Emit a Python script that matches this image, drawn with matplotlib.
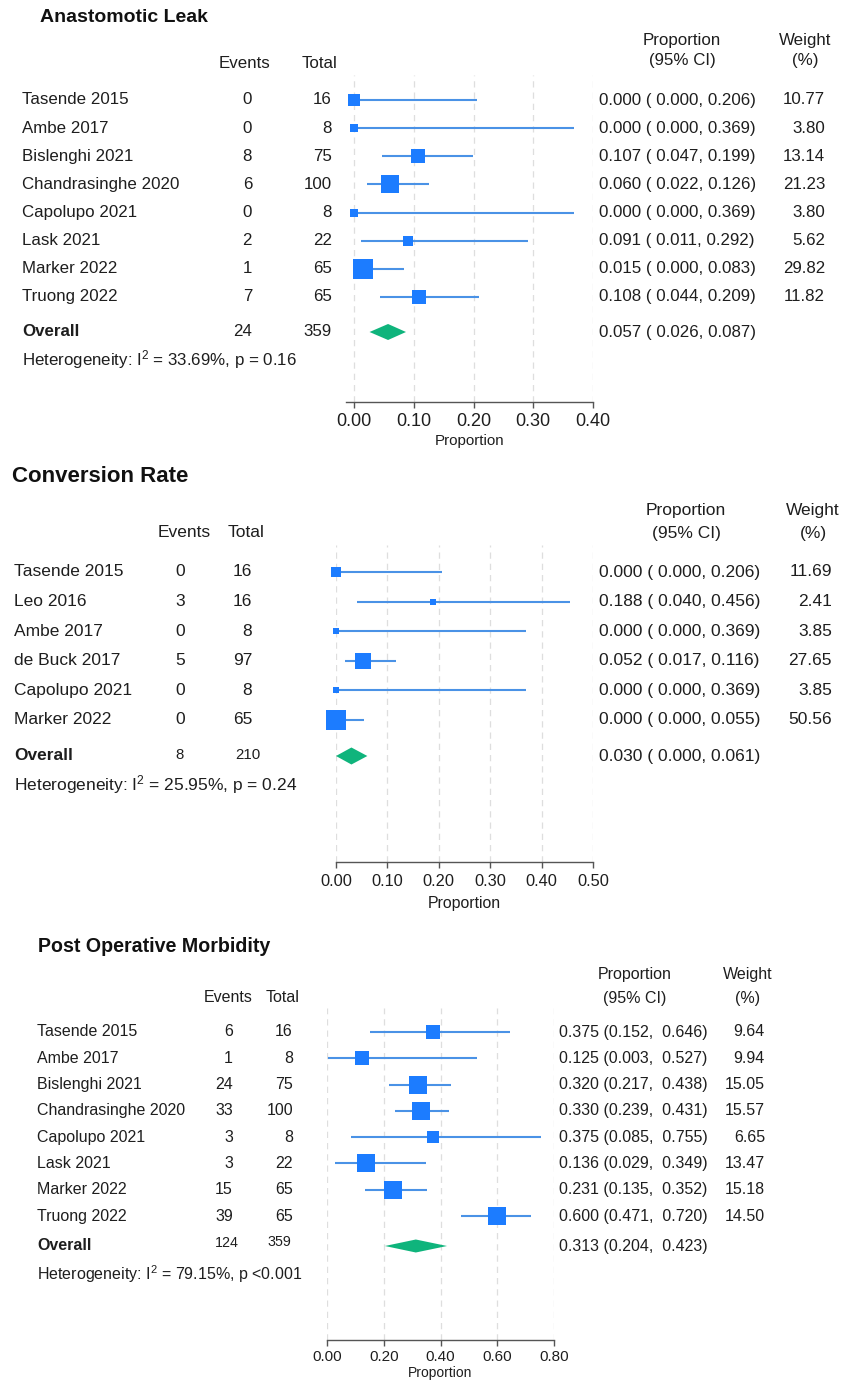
import numpy as np
import matplotlib
matplotlib.use("Agg")
import matplotlib.pyplot as plt

plt.rcParams["font.family"] = ["Liberation Sans", "DejaVu Sans"]
plt.rcParams["mathtext.fontset"] = "custom"
plt.rcParams["mathtext.rm"] = "Liberation Sans"
plt.rcParams["mathtext.default"] = "regular"

W, H = 851, 1385

# ---------------- Anastomotic Leak ----------------
al_studies = ["Tasende 2015", "Ambe 2017", "Bislenghi 2021", "Chandrasinghe 2020",
              "Capolupo 2021", "Lask 2021", "Marker 2022", "Truong 2022"]
al_events = [0, 0, 8, 6, 0, 2, 1, 7]
al_totals = [16, 8, 75, 100, 8, 22, 65, 65]
al_prop = [0.000, 0.000, 0.107, 0.060, 0.000, 0.091, 0.015, 0.108]
al_lo = [0.000, 0.000, 0.047, 0.022, 0.000, 0.011, 0.000, 0.044]
al_hi = [0.206, 0.369, 0.199, 0.126, 0.369, 0.292, 0.083, 0.209]
al_weight = [10.77, 3.80, 13.14, 21.23, 3.80, 5.62, 29.82, 11.82]
al_overall = [0.057, 0.026, 0.087]
al_sum = [24, 359]
al_i2, al_p = "33.69%", "p = 0.16"
al_ticks = [0.0, 0.1, 0.2, 0.3, 0.4]

# ---------------- Conversion Rate ----------------
cr_studies = ["Tasende 2015", "Leo 2016", "Ambe 2017", "de Buck 2017",
              "Capolupo 2021", "Marker 2022"]
cr_events = [0, 3, 0, 5, 0, 0]
cr_totals = [16, 16, 8, 97, 8, 65]
cr_prop = [0.000, 0.188, 0.000, 0.052, 0.000, 0.000]
cr_lo = [0.000, 0.040, 0.000, 0.017, 0.000, 0.000]
cr_hi = [0.206, 0.456, 0.369, 0.116, 0.369, 0.055]
cr_weight = [11.69, 2.41, 3.85, 27.65, 3.85, 50.56]
cr_overall = [0.030, 0.000, 0.061]
cr_sum = [8, 210]
cr_i2, cr_p = "25.95%", "p = 0.24"
cr_ticks = [0.0, 0.1, 0.2, 0.3, 0.4, 0.5]

# ---------------- Post Operative Morbidity ----------------
pm_studies = ["Tasende 2015", "Ambe 2017", "Bislenghi 2021", "Chandrasinghe 2020",
              "Capolupo 2021", "Lask 2021", "Marker 2022", "Truong 2022"]
pm_events = [6, 1, 24, 33, 3, 3, 15, 39]
pm_totals = [16, 8, 75, 100, 8, 22, 65, 65]
pm_prop = [0.375, 0.125, 0.320, 0.330, 0.375, 0.136, 0.231, 0.600]
pm_lo = [0.152, 0.003, 0.217, 0.239, 0.085, 0.029, 0.135, 0.471]
pm_hi = [0.646, 0.527, 0.438, 0.431, 0.755, 0.349, 0.352, 0.720]
pm_weight = [9.64, 9.94, 15.05, 15.57, 6.65, 13.47, 15.18, 14.50]
pm_overall = [0.313, 0.204, 0.423]
pm_sum = [124, 359]
pm_i2, pm_p = "79.15%", "p <0.001"
pm_ticks = [0.0, 0.2, 0.4, 0.6, 0.8]

SQ_COLOR = "#1c7cff"
CI_COLOR = "#4a92e6"
DIAMOND = "#0fb47c"
TXT = "#1e1e1e"
GRID = "#dedede"
AXC = "#555555"

fig = plt.figure(figsize=(W / 100, H / 100), dpi=100)


def ftext(x, y, s, **kw):
    kw.setdefault("color", TXT)
    kw.setdefault("va", "center")
    fig.text(x / W, 1 - y / H, s, **kw)


def draw_panel(title, studies, events, totals, prop, lo, hi, weight, overall,
               sums, i2, pval, ticks, L, ci_fmt):
    fs = L["fs"]
    ftext(L["title"][0], L["title"][1], title, fontsize=L["title_fs"],
          fontweight="bold", ha="left", color="#111111")
    # column headers
    ftext(L["prop_x"], L["hdr1_y"], "Proportion", fontsize=fs, ha="center")
    ftext(L["prop_x"], L["hdr2_y"], "(95% CI)", fontsize=fs, ha="center")
    ftext(L["wt_x"], L["hdr1_y"], "Weight", fontsize=fs, ha="center")
    ftext(L["wt_x"], L["hdr2_y"], "(%)", fontsize=fs, ha="center")
    ftext(L["ev_hdr"], L["hdr_y"], "Events", fontsize=fs, ha="center")
    ftext(L["tot_hdr"], L["hdr_y"], "Total", fontsize=fs, ha="center")

    n = len(studies)
    rows = [L["row0"] + i * L["step"] for i in range(n)]

    # forest axes: x in data units, y in row layout units (pixels from top)
    x0, x1 = L["xlim"]
    left_px = L["zero_px"] + x0 * L["ppu"]
    right_px = L["zero_px"] + x1 * L["ppu"]
    ax = fig.add_axes([left_px / W, 1 - L["axis_y"] / H,
                       (right_px - left_px) / W, (L["axis_y"] - L["grid_top"]) / H])
    ax.set_xlim(x0, x1)
    ax.set_ylim(L["axis_y"], L["grid_top"])
    ax.set_facecolor("none")
    for sp in ["top", "right", "left"]:
        ax.spines[sp].set_visible(False)
    ax.spines["bottom"].set_color(AXC)
    ax.spines["bottom"].set_linewidth(1.0)
    ax.set_yticks([])
    ax.set_xticks(ticks)
    ax.set_xticklabels([f"{t:.2f}" for t in ticks])
    ax.tick_params(axis="x", length=4, width=1.0, color=AXC, labelsize=L["tick_fs"],
                   labelcolor=TXT, pad=L["tick_pad"])
    ax.grid(axis="x", linestyle=(0, (5, 4)), color=GRID, linewidth=0.9)
    ax.set_axisbelow(True)
    ax.set_xlabel("Proportion", fontsize=L["xl_fs"], color=TXT, labelpad=L["xl_pad"])

    wmax = max(weight)
    for i in range(n):
        y = rows[i]
        ax.plot([lo[i], hi[i]], [y, y], color=CI_COLOR, lw=1.5, solid_capstyle="butt",
                zorder=3, clip_on=False)
        side_px = 1.5 + (L["sq"] - 1.5) * np.sqrt(weight[i] / wmax)
        ax.plot([prop[i]], [y], marker="s", ms=side_px * 0.72, color=SQ_COLOR, mew=0,
                zorder=4, clip_on=False)
        ftext(L["lab_x"], y, studies[i], fontsize=fs, ha="left")
        ftext(L["ev_x"], y, str(events[i]), fontsize=fs, ha="right")
        ftext(L["tot_x"], y, str(totals[i]), fontsize=fs, ha="right")
        ftext(L["ci_x"], y, ci_fmt.format(prop[i], lo[i], hi[i]), fontsize=fs, ha="left")
        ftext(L["w_x"], y, f"{weight[i]:.2f}", fontsize=fs, ha="right")

    # pooled estimate
    est, olo, ohi = overall
    yo = L["ov_y"]
    hh = L["dia_h"] / 2
    ax.fill([olo, est, ohi, est], [yo, yo - hh, yo, yo + hh], color=DIAMOND,
            lw=0, zorder=4, clip_on=False)
    ftext(L["lab_x"], yo, "Overall", fontsize=fs, ha="left", fontweight="bold")
    ftext(L["ov_ev"][0], L["ov_ev"][1], str(sums[0]), fontsize=L["ov_fs"], ha=L["ov_ha"])
    ftext(L["ov_tot"][0], L["ov_tot"][1], str(sums[1]), fontsize=L["ov_fs"], ha=L["ov_ha"])
    ftext(L["ci_x"], yo, ci_fmt.format(est, olo, ohi), fontsize=fs, ha="left")
    ftext(L["lab_x"], L["het_y"], f"Heterogeneity: I$^2$ = {i2}, {pval}",
          fontsize=fs, ha="left")
    return ax


L1 = dict(fs=12.2, title=(40, 18), title_fs=14, hdr1_y=40, hdr2_y=61, hdr_y=63,
          prop_x=682, wt_x=805, ev_hdr=245, tot_hdr=320,
          row0=100, step=28.14, lab_x=22, ev_x=252, tot_x=332, ci_x=599, w_x=825,
          zero_px=354, ppu=597.5, xlim=(-0.0134, 0.40), grid_top=75, axis_y=402,
          tick_fs=13, tick_pad=4, xl_fs=10.9, xl_pad=3,
          sq=20.0, ov_y=332, dia_h=16, het_y=360, ov_fs=12.2, ov_ha="right",
          ov_ev=(252, 332), ov_tot=(332, 332))

L2 = dict(fs=12.5, title=(12, 476), title_fs=16, hdr1_y=510, hdr2_y=534, hdr_y=533,
          prop_x=686, wt_x=813, ev_hdr=184, tot_hdr=246,
          row0=572, step=29.6, lab_x=14, ev_x=185, tot_x=252, ci_x=599, w_x=832,
          zero_px=336, ppu=514.0, xlim=(0.0, 0.50), grid_top=545, axis_y=862,
          tick_fs=11.8, tick_pad=5, xl_fs=11.4, xl_pad=5,
          sq=20.7, ov_y=756, dia_h=17, het_y=785, ov_fs=10.8, ov_ha="center",
          ov_ev=(180, 755), ov_tot=(248, 755))

L3 = dict(fs=11.5, title=(38, 947), title_fs=14.1, hdr1_y=975, hdr2_y=998, hdr_y=997,
          prop_x=635, wt_x=748, ev_hdr=228, tot_hdr=283,
          row0=1032, step=26.3, lab_x=37, ev_x=233, tot_x=293, ci_x=559, w_x=765,
          zero_px=327, ppu=283.75, xlim=(0.0, 0.80), grid_top=1008, axis_y=1340,
          tick_fs=11, tick_pad=3.5, xl_fs=10, xl_pad=1.5,
          sq=18.3, ov_y=1246, dia_h=13, het_y=1274, ov_fs=10.3, ov_ha="center",
          ov_ev=(227, 1243), ov_tot=(279, 1242))

draw_panel("Anastomotic Leak", al_studies, al_events, al_totals, al_prop, al_lo, al_hi,
           al_weight, al_overall, al_sum, al_i2, al_p, al_ticks, L1,
           "{:.3f} ( {:.3f}, {:.3f})")
draw_panel("Conversion Rate", cr_studies, cr_events, cr_totals, cr_prop, cr_lo, cr_hi,
           cr_weight, cr_overall, cr_sum, cr_i2, cr_p, cr_ticks, L2,
           "{:.3f} ( {:.3f}, {:.3f})")
draw_panel("Post Operative Morbidity", pm_studies, pm_events, pm_totals, pm_prop, pm_lo,
           pm_hi, pm_weight, pm_overall, pm_sum, pm_i2, pm_p, pm_ticks, L3,
           "{:.3f} ({:.3f},  {:.3f})")

fig.savefig("out.png", dpi=100, facecolor="white")
